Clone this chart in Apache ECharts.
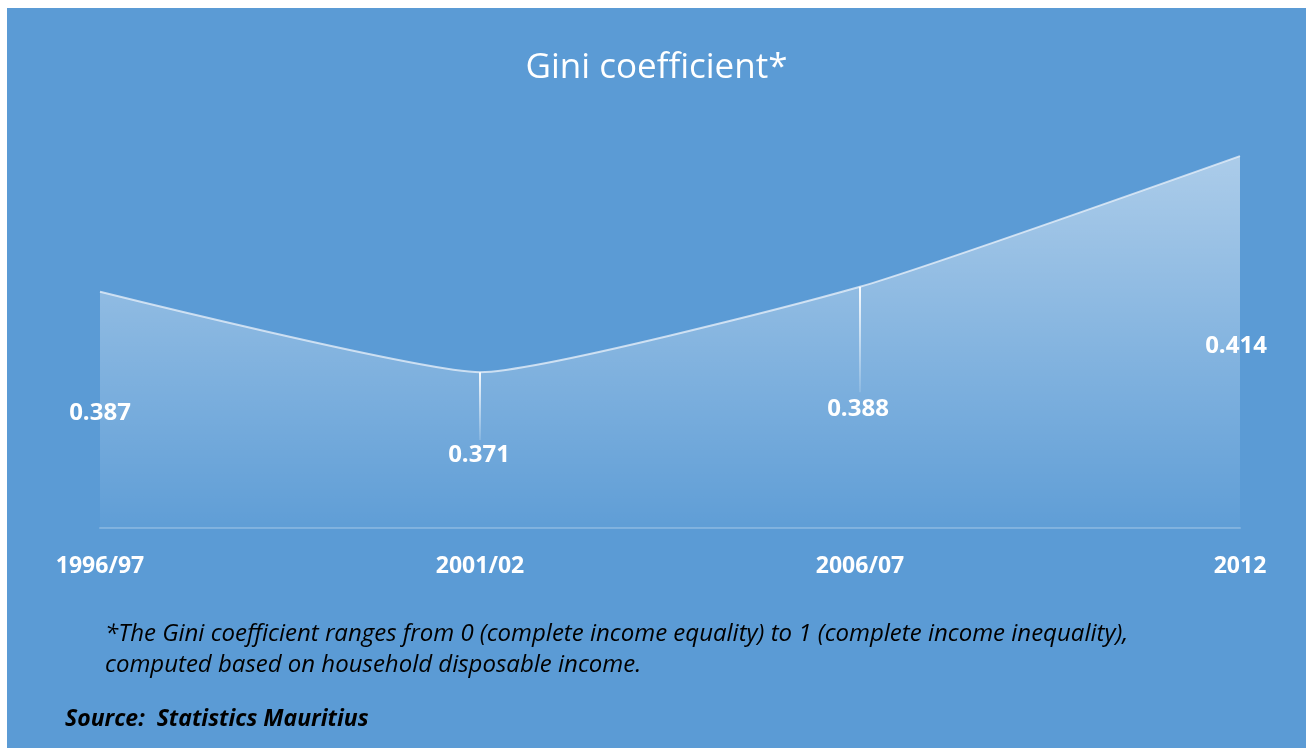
<!DOCTYPE html>
<html>
<head>
<meta charset="utf-8">
<script src="https://cdn.jsdelivr.net/npm/echarts@6/dist/echarts.min.js"></script>
<style>
  html, body { margin: 0; padding: 0; background: #fff; }
  #chart { position: absolute; left: 7px; top: 8px; width: 1299px; height: 740px; }
</style>
</head>
<body>
<div id="chart"></div>
<script>
// Gini coefficient, Mauritius (household disposable income)
const PERIODS = ['1996/97', '2001/02', '2006/07', '2012']
const GINI = [0.387, 0.371, 0.388, 0.414]
// short white drop lines under the two middle points (value units)
const DROP = [0, 0.0135, 0.021, 0]
// label offsets from each point [dx, dy] in px
const LABEL_OFFSET = [[0, 119], [-1, 80], [-2, 120], [-4, 188]]

const FOOT1 = '*The Gini coefficient ranges from 0 (complete income equality) to 1 (complete income inequality),'
const FOOT2 = 'computed based on household disposable income.'
const SOURCE = 'Source:  Statistics Mauritius'

const chart = echarts.init(document.getElementById('chart'))

const dropLines = GINI.map((v, i) => DROP[i] > 0 ? [
  { coord: [i, v] }, { coord: [i, v - DROP[i]] }
] : null).filter(Boolean)

chart.setOption({
  backgroundColor: '#5b9bd5',
  animation: false,
  title: {
    text: 'Gini coefficient*',
    left: 'center', top: 38,
    textStyle: { color: '#fff', fontSize: 35, fontWeight: 'normal', fontFamily: 'Open Sans' }
  },
  grid: { left: 93, right: 66, top: 118, bottom: 220 },
  xAxis: {
    type: 'category',
    data: PERIODS,
    boundaryGap: false,
    axisLine: { lineStyle: { color: 'rgba(255,255,255,0.22)', width: 2 } },
    axisTick: { show: false },
    axisLabel: { color: '#fff', fontSize: 23, fontWeight: 'bold', fontFamily: 'Open Sans', margin: 27 }
  },
  yAxis: {
    type: 'value', min: 0.34, max: 0.42,
    show: false, splitLine: { show: false }
  },
  series: [{
    type: 'line',
    data: GINI.map((v, i) => ({
      value: v,
      label: { offset: [LABEL_OFFSET[i][0], LABEL_OFFSET[i][1] - 10] }
    })),
    smooth: 0.15,
    symbol: 'circle',
    symbolSize: 1,
    showAllSymbol: true,
    itemStyle: { color: 'transparent', borderWidth: 0 },
    lineStyle: { color: 'rgba(235,242,250,0.75)', width: 2 },
    areaStyle: {
      color: new echarts.graphic.LinearGradient(0, 0, 0, 1, [
        { offset: 0, color: 'rgba(255,255,255,0.7)' },
        { offset: 1, color: 'rgba(255,255,255,0.04)' }
      ])
    },
    label: {
      show: true, position: 'bottom', distance: 0,
      color: '#fff', fontSize: 24, fontWeight: 'bold', fontFamily: 'Open Sans',
      formatter: p => p.value.toFixed(3)
    },
    markLine: {
      silent: true, symbol: 'none',
      label: { show: false },
      lineStyle: {
        type: 'solid', width: 2,
        color: new echarts.graphic.LinearGradient(0, 0, 0, 1, [
          { offset: 0, color: 'rgba(255,255,255,0.95)' },
          { offset: 1, color: 'rgba(255,255,255,0.1)' }
        ])
      },
      data: dropLines
    }
  }],
  graphic: [
    { type: 'text', left: 98, top: 614,
      style: { text: FOOT1, fill: '#000', fontSize: 24, fontStyle: 'italic', fontFamily: 'Open Sans' } },
    { type: 'text', left: 98, top: 645,
      style: { text: FOOT2, fill: '#000', fontSize: 24, fontStyle: 'italic', fontFamily: 'Open Sans' } },
    { type: 'text', left: 58, top: 700,
      style: { text: SOURCE, fill: '#000', fontSize: 23, fontStyle: 'italic', fontWeight: 'bold', fontFamily: 'Open Sans' } }
  ]
})
</script>
</body>
</html>
